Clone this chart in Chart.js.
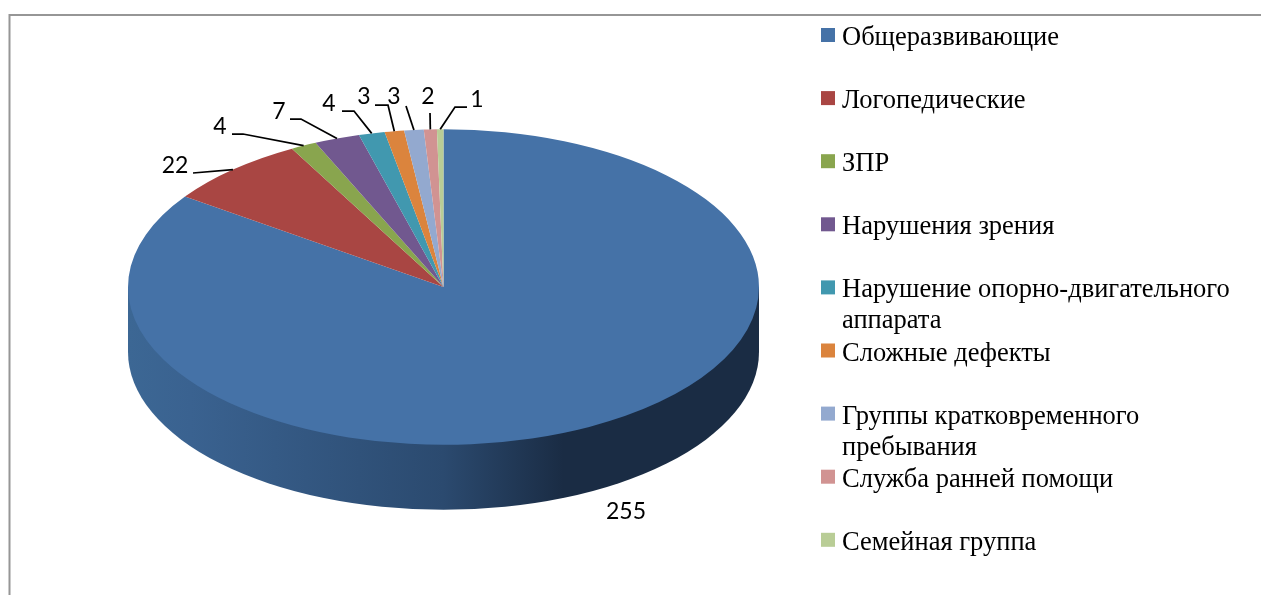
<!DOCTYPE html>
<html>
<head>
<meta charset="utf-8">
<title>Группы</title>
<script src="https://cdn.jsdelivr.net/npm/chart.js@4"></script>
<style>
  html, body { margin: 0; padding: 0; background: #fff; overflow: hidden; }
  canvas { display: block; }
</style>
</head>
<body>
<canvas id="grafico" width="1261" height="595"></canvas>
<script>
// Datos del gráfico
var categories = ["Общеразвивающие", "Логопедические", "ЗПР", "Нарушения зрения",
    "Нарушение опорно-двигательного аппарата", "Сложные дефекты",
    "Группы кратковременного пребывания", "Служба ранней помощи", "Семейная группа"];
var values = [255, 22, 4, 7, 4, 3, 3, 2, 1];
var colors = ["#4572a7", "#a94643", "#89a54e", "#71588f", "#4198af", "#db843d", "#93a9cf", "#d19392", "#b9cd96"];

// Posición de las etiquetas y codo de cada línea guía (null = sin línea)
var labelPos = [[626, 512], [175, 166], [220, 127], [279, 112], [329, 104], [364, 97], [394, 97], [428, 97], [477, 100]];
var leaderStart = [null, [193, 173], [232, 134], [290, 119], [342, 111], [375, 105], [406, 106], [430, 113], [467, 107]];
var leaderElbow = [null, null, [243, 134], [301, 119], [354, 111], [388, 105], null, null, [455, 107]];

var squash = 0.5;   // aplastamiento de la elipse
var depth = 65;     // altura del lateral

// Marco gris de fondo
var framePlugin = {
    id: "frame",
    beforeDraw: function(chart) {
        var ctx = chart.ctx;
        ctx.save();
        ctx.strokeStyle = "#969696";
        ctx.lineWidth = 2;
        ctx.beginPath();
        ctx.moveTo(9.5, 595);
        ctx.lineTo(9.5, 15);
        ctx.lineTo(1261, 15);
        ctx.stroke();
        ctx.restore();
    }
};

// Pinta el lateral y aplasta el círculo para simular el 3D
var pie3dPlugin = {
    id: "pie3d",
    beforeDatasetDraw: function(chart) {
        var ctx = chart.ctx;
        var arc = chart.getDatasetMeta(0).data[0];
        var cx = arc.x, cy = arc.y, r = arc.outerRadius;
        var grad = ctx.createLinearGradient(cx - r, 0, cx + r, 0);
        grad.addColorStop(0, "#3c6794");
        grad.addColorStop(0.1, "#3a6290");
        grad.addColorStop(0.5, "#2b4a6f");
        grad.addColorStop(0.69, "#1a2c44");
        grad.addColorStop(1, "#1a2c44");
        ctx.save();
        ctx.fillStyle = grad;
        ctx.beginPath();
        ctx.moveTo(cx - r, cy);
        ctx.lineTo(cx - r, cy + depth);
        ctx.ellipse(cx, cy + depth, r, r * squash, 0, Math.PI, 0, true);
        ctx.lineTo(cx + r, cy);
        ctx.closePath();
        ctx.fill();
        ctx.restore();

        ctx.save();
        ctx.translate(cx, cy);
        ctx.scale(1, squash);
        ctx.translate(-cx, -cy);
    },
    afterDatasetDraw: function(chart) {
        chart.ctx.restore();
    }
};

// Etiquetas de valor con sus líneas guía
var labelsPlugin = {
    id: "valueLabels",
    afterDatasetsDraw: function(chart) {
        var ctx = chart.ctx;
        var arcs = chart.getDatasetMeta(0).data;
        ctx.save();
        ctx.font = '23px Lato, "Open Sans", sans-serif';
        ctx.fillStyle = "#000";
        ctx.textAlign = "center";
        ctx.textBaseline = "middle";
        ctx.strokeStyle = "#000";
        ctx.lineWidth = 1.75;
        values.forEach(function(v, i) {
            var arc = arcs[i];
            if (leaderStart[i]) {
                var mid = (arc.startAngle + arc.endAngle) / 2;
                ctx.beginPath();
                ctx.moveTo(leaderStart[i][0], leaderStart[i][1]);
                if (leaderElbow[i]) ctx.lineTo(leaderElbow[i][0], leaderElbow[i][1]);
                ctx.lineTo(arc.x + arc.outerRadius * Math.cos(mid),
                           arc.y + arc.outerRadius * squash * Math.sin(mid));
                ctx.stroke();
            }
            ctx.fillText(String(v), labelPos[i][0], labelPos[i][1]);
        });
        ctx.restore();
    }
};

// Leyenda a la derecha; las filas van a paso fijo aunque el texto ocupe dos líneas
var legendPlugin = {
    id: "sideLegend",
    afterDraw: function(chart) {
        var ctx = chart.ctx;
        ctx.save();
        ctx.font = '26.5px "Liberation Serif", serif';
        ctx.textBaseline = "alphabetic";
        categories.forEach(function(name, i) {
            var top = 28 + i * 63.1;
            ctx.fillStyle = colors[i];
            ctx.fillRect(821, top, 14, 14);
            ctx.fillStyle = "#000";
            var line = "", y = top + 17;
            name.split(" ").forEach(function(word) {
                var test = line ? line + " " + word : word;
                if (ctx.measureText(test).width > 398 && line) {
                    ctx.fillText(line, 842, y);
                    y += 31;
                    line = word;
                } else {
                    line = test;
                }
            });
            ctx.fillText(line, 842, y);
        });
        ctx.restore();
    }
};

new Chart(document.getElementById("grafico").getContext("2d"), {
    type: "pie",
    data: {
        labels: categories,
        datasets: [{
            data: values,
            backgroundColor: colors,
            borderWidth: 0,
            radius: 315.5,
            clip: false
        }]
    },
    options: {
        responsive: false,
        animation: false,
        layout: { padding: { left: 0, top: 0, right: 374, bottom: 21 } },
        plugins: { legend: { display: false }, tooltip: { enabled: false } }
    },
    plugins: [framePlugin, pie3dPlugin, labelsPlugin, legendPlugin]
});
</script>
</body>
</html>
